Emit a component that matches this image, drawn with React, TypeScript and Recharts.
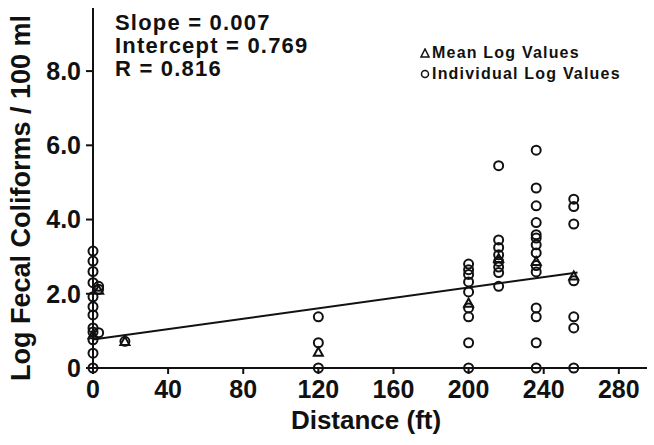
import React from "react";
import {
  ScatterChart,
  Scatter,
  XAxis,
  YAxis,
  ReferenceLine,
  Label,
} from "recharts";

// sampling stations (ft from the source) and the log counts read at each
const stationDistance = [0, 3, 17, 120, 200, 216, 236, 256];

const individualLogs: number[][] = [
  [3.15, 2.88, 2.6, 2.3, 1.92, 1.65, 1.43, 1.08, 0.97, 0.76, 0.4, 0],
  [2.2, 2.12, 0.95],
  [0.72],
  [1.38, 0.68, 0],
  [2.8, 2.65, 2.52, 2.32, 2.05, 1.62, 1.38, 0.68, 0],
  [5.45, 3.45, 3.25, 3.05, 2.87, 2.72, 2.57, 2.2],
  [5.87, 4.85, 4.37, 3.92, 3.59, 3.5, 3.32, 3.1, 2.76, 2.59, 1.62, 1.38, 0.68, 0],
  [4.55, 4.35, 3.88, 2.35, 1.38, 1.08, 0],
];

const meanLogs = [0.9, 2.1, 0.72, 0.43, 1.75, 2.95, 2.87, 2.48];

const slope = 0.007;
const intercept = 0.769;
const rValue = 0.816;
const lineEnd = 258;

const xTicks = [0, 40, 80, 120, 160, 200, 240, 280];
const yTicks = [0, 2, 4, 6, 8];

const individualPoints = stationDistance.flatMap((d, i) =>
  individualLogs[i].map((v) => ({ x: d, y: v }))
);
const meanPoints = stationDistance.map((d, i) => ({ x: d, y: meanLogs[i] }));

const FONT = '"Liberation Sans", Arial, Helvetica, sans-serif';
const INK = "#111";

const OpenCircle = (props: any) => {
  const { cx, cy } = props;
  if (cx == null || cy == null) return null;
  return <circle cx={cx} cy={cy} r={4.5} fill="none" stroke={INK} strokeWidth={2} />;
};

const OpenTriangle = (props: any) => {
  const { cx, cy } = props;
  if (cx == null || cy == null) return null;
  const s = 4.5;
  return (
    <polygon
      points={`${cx},${cy - s} ${cx - s},${cy + s * 0.8} ${cx + s},${cy + s * 0.8}`}
      fill="none"
      stroke={INK}
      strokeWidth={2}
    />
  );
};

const tickStyle = { fontFamily: FONT, fontWeight: 700, fontSize: 25, fill: INK };

export default function App() {
  return (
    <div style={{ position: "absolute", left: 0, top: 0, width: 654, height: 445, background: "#fff" }}>
      <ScatterChart
        width={654}
        height={445}
        margin={{ top: 8, right: 7, bottom: 20, left: 33 }}
      >
        <XAxis
          type="number"
          dataKey="x"
          domain={[0, 295]}
          ticks={xTicks}
          tick={tickStyle}
          tickSize={6}
          tickMargin={6}
          axisLine={{ stroke: INK, strokeWidth: 2 }}
          tickLine={{ stroke: INK, strokeWidth: 2 }}
          height={57}
          interval={0}
        >
          <Label
            content={({ viewBox }: any) => (
              <text
                x={viewBox.x + viewBox.width / 2 - 4}
                y={viewBox.y + viewBox.height + 4}
                textAnchor="middle"
                style={{ fontFamily: FONT, fontWeight: 700, fontSize: 26, fill: INK }}
              >
                Distance (ft)
              </text>
            )}
          />
        </XAxis>
        <YAxis
          type="number"
          dataKey="y"
          domain={[0, 9.7]}
          ticks={yTicks}
          tick={tickStyle}
          tickFormatter={(v: number) => (v === 0 ? "0" : v.toFixed(1))}
          tickSize={7}
          tickMargin={5}
          axisLine={{ stroke: INK, strokeWidth: 2 }}
          tickLine={{ stroke: INK, strokeWidth: 2 }}
          width={60}
          interval={0}
        >
          <Label
            content={({ viewBox }: any) => {
              const x = viewBox.x - 12;
              const y = viewBox.y + viewBox.height / 2 + 10;
              return (
                <text
                  x={x}
                  y={y}
                  transform={`rotate(-90 ${x} ${y})`}
                  textAnchor="middle"
                  dominantBaseline="central"
                  style={{ fontFamily: FONT, fontWeight: 700, fontSize: 27, fill: INK }}
                >
                  Log Fecal Coliforms / 100 ml
                </text>
              );
            }}
          />
        </YAxis>
        <ReferenceLine
          segment={[
            { x: 0, y: intercept },
            { x: lineEnd, y: intercept + slope * lineEnd },
          ]}
          stroke={INK}
          strokeWidth={2}
          ifOverflow="visible"
        />
        <Scatter
          name="Individual Log Values"
          data={individualPoints}
          shape={OpenCircle}
          isAnimationActive={false}
        />
        <Scatter
          name="Mean Log Values"
          data={meanPoints}
          shape={OpenTriangle}
          isAnimationActive={false}
        />
      </ScatterChart>

      <div
        style={{
          position: "absolute",
          left: 115,
          top: 11,
          fontFamily: FONT,
          fontWeight: 700,
          fontSize: 22,
          lineHeight: "23px",
          color: INK,
          letterSpacing: 1.2,
          whiteSpace: "nowrap",
        }}
      >
        <div>Slope = {slope.toFixed(3)}</div>
        <div>Intercept = {intercept.toFixed(3)}</div>
        <div>R = {rValue.toFixed(3)}</div>
      </div>

      <div
        style={{
          position: "absolute",
          left: 420,
          top: 42,
          fontFamily: FONT,
          fontWeight: 700,
          fontSize: 16,
          lineHeight: "21px",
          color: INK,
          letterSpacing: 1.2,
          whiteSpace: "nowrap",
        }}
      >
        <div>
          <svg width={10} height={10} style={{ marginRight: 2 }}>
            <polygon points="5,1 1,9 9,9" fill="none" stroke={INK} strokeWidth={1.5} />
          </svg>
          Mean Log Values
        </div>
        <div>
          <svg width={10} height={10} style={{ marginRight: 2 }}>
            <circle cx={5} cy={5} r={3.5} fill="none" stroke={INK} strokeWidth={1.5} />
          </svg>
          Individual Log Values
        </div>
      </div>
    </div>
  );
}
